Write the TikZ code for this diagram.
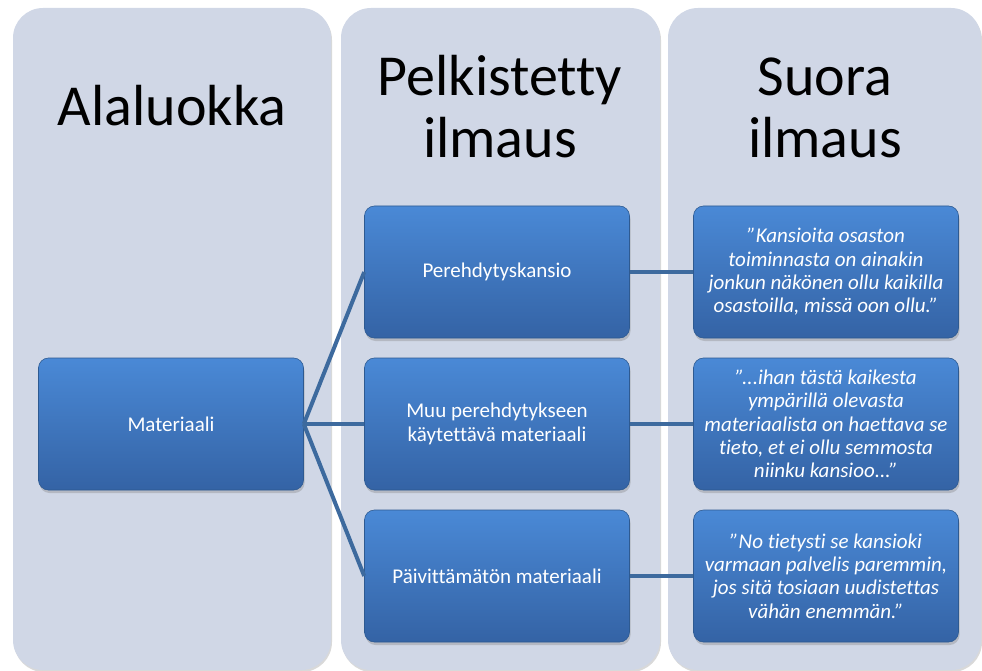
\documentclass[tikz,border=0pt]{standalone}
\usepackage{fontspec}
\setmainfont{Carlito}[Ligatures=NoCommon]
\usetikzlibrary{shadows}
\definecolor{colbg}{HTML}{D0D7E6}
\definecolor{boxtop}{HTML}{4A89D6}
\definecolor{boxbot}{HTML}{3463A5}
\definecolor{boxline}{HTML}{2E5A91}
\definecolor{linkblue}{HTML}{3D6A9E}

\begin{document}
\begin{tikzpicture}[x=1pt,y=1pt,grow'=right,
			level 1/.style={level distance=326pt,sibling distance=152pt},
			level 2/.style={level distance=329pt},
			edge from parent/.style={draw=linkblue,line width=4pt},
			edge from parent path={(\tikzparentnode.east) -- (\tikzchildnode.west)}]
		\tikzstyle{column}=[fill=colbg,rounded corners=30pt,
			drop shadow={shadow xshift=1pt,shadow yshift=-2pt,opacity=0.3}]
		\tikzstyle{catbox}=[rectangle,rounded corners=10pt,minimum width=265pt,minimum height=132pt,
			top color=boxtop,bottom color=boxbot,draw=boxline,line width=0.6pt,
			text=white,align=center,font=\fontsize{21}{24}\selectfont,
			drop shadow={shadow xshift=1pt,shadow yshift=-3pt,opacity=0.35}]
		\tikzstyle{quotebox}=[catbox,inner sep=2pt,font=\fontsize{21}{23.3}\selectfont\itshape]
		\tikzstyle{heading}=[align=center,anchor=base,font=\fontsize{58}{62}\selectfont]

		\useasboundingbox (0,0) rectangle (982,-671);
		\path[column] (13,-8) rectangle (331,-670);
		\path[column] (341,-8) rectangle (660,-670);
		\path[column] (668,-8) rectangle (981,-670);

		\node[heading] (h1) at (172,-126) {Alaluokka};
		\node[heading] (h2) at (500,-158) {Pelkistetty\\ilmaus};
		\node[heading] (h3) at (825,-158) {Suora\\ilmaus};

			\node[catbox] (mat) at (171,-424) {Materiaali}
				child {
					node[catbox] (pere) {Perehdytyskansio}
					child { node[quotebox] (q1) {”Kansioita osaston\\toiminnasta on ainakin\\jonkun näkönen ollu kaikilla\\osastoilla, missä oon ollu.”} }
				}
				child {
					node[catbox] (muu) {Muu perehdytykseen\\käytettävä materiaali}
					child { node[quotebox] (q2) {”...ihan tästä kaikesta\\ympärillä olevasta\\materiaalista on haettava se\\tieto, et ei ollu semmosta\\niinku kansioo...”} }
				}
				child {
					node[catbox] (paiv) {Päivittämätön materiaali}
					child { node[quotebox] (q3) {”No tietysti se kansioki\\varmaan palvelis paremmin,\\jos sitä tosiaan uudistettas\\vähän enemmän.”} }
				};

		\end{tikzpicture}
\end{document}
